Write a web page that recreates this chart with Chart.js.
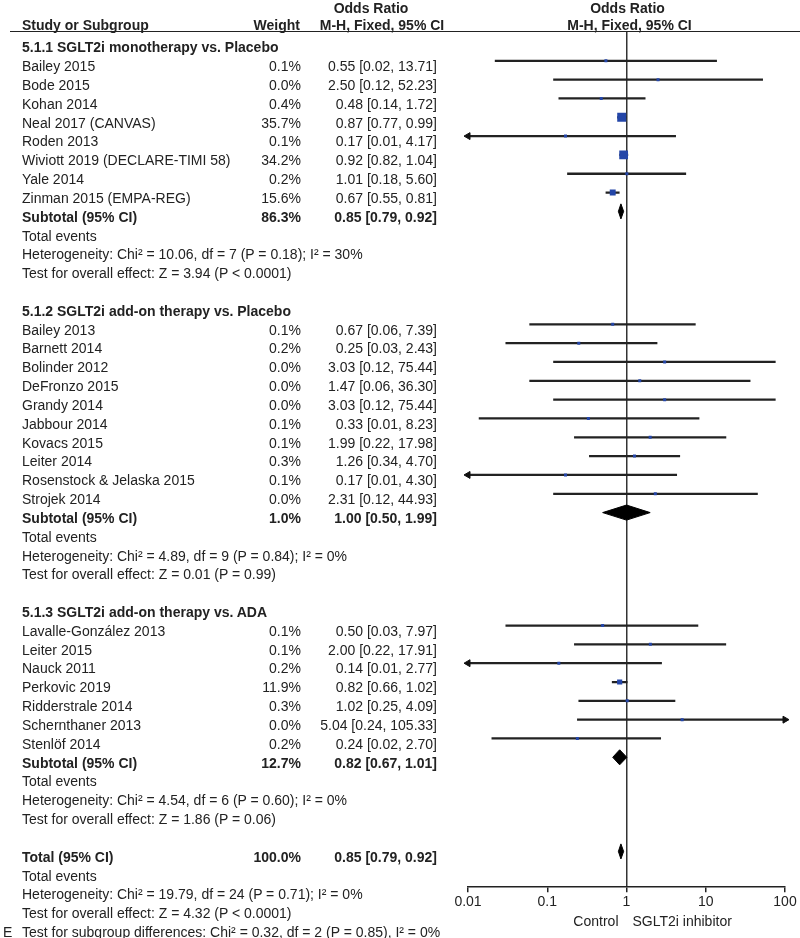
<!DOCTYPE html>
<html>
<head>
<meta charset="utf-8">
<script src="https://cdn.jsdelivr.net/npm/chart.js@4.4.1/dist/chart.umd.min.js"></script>
<style>
  body { margin: 0; background: #fff; }
  #wrap { position: relative; width: 800px; height: 938px; overflow: hidden; font-family: "Liberation Sans", Arial, sans-serif; font-size: 14px; color: #222; }
  #chart { position: absolute; left: 0; top: 0; }
  .t { position: absolute; white-space: nowrap; line-height: 16px; height: 16px; }
  .b { font-weight: bold; }
  #rule { position: absolute; left: 10px; right: 0; top: 31px; border-top: 1.5px solid #222; }
</style>
</head>
<body>
<div id="wrap">
  <canvas id="chart" width="800" height="938"></canvas>
  <div id="rule"></div>
</div>
<script>
const groupTitles = [
  "5.1.1 SGLT2i monotherapy vs. Placebo",
  "5.1.2 SGLT2i add-on therapy vs. Placebo",
  "5.1.3 SGLT2i add-on therapy vs. ADA"
]

// 5.1.1
const g1Studies = ["Bailey 2015", "Bode 2015", "Kohan 2014", "Neal 2017 (CANVAS)", "Roden 2013",
  "Wiviott 2019 (DECLARE-TIMI 58)", "Yale 2014", "Zinman 2015 (EMPA-REG)"]
const g1Weight = [0.1, 0.0, 0.4, 35.7, 0.1, 34.2, 0.2, 15.6]
const g1OR = [0.55, 2.50, 0.48, 0.87, 0.17, 0.92, 1.01, 0.67]
const g1Lower = [0.022, 0.12, 0.14, 0.77, 0.006, 0.82, 0.18, 0.55]
const g1Upper = [13.71, 52.23, 1.72, 0.99, 4.17, 1.04, 5.60, 0.81]

// 5.1.2
const g2Studies = ["Bailey 2013", "Barnett 2014", "Bolinder 2012", "DeFronzo 2015", "Grandy 2014",
  "Jabbour 2014", "Kovacs 2015", "Leiter 2014", "Rosenstock & Jelaska 2015", "Strojek 2014"]
const g2Weight = [0.1, 0.2, 0.0, 0.0, 0.0, 0.1, 0.1, 0.3, 0.1, 0.0]
const g2OR = [0.67, 0.25, 3.03, 1.47, 3.03, 0.33, 1.99, 1.26, 0.17, 2.31]
const g2Lower = [0.06, 0.03, 0.12, 0.06, 0.12, 0.0138, 0.22, 0.34, 0.006, 0.12]
const g2Upper = [7.39, 2.43, 75.44, 36.30, 75.44, 8.23, 17.98, 4.70, 4.30, 44.93]

// 5.1.3
const g3Studies = ["Lavalle-González 2013", "Leiter 2015", "Nauck 2011", "Perkovic 2019",
  "Ridderstrale 2014", "Schernthaner 2013", "Stenlöf 2014"]
const g3Weight = [0.1, 0.1, 0.2, 11.9, 0.3, 0.0, 0.2]
const g3OR = [0.50, 2.00, 0.14, 0.82, 1.02, 5.04, 0.24]
const g3Lower = [0.03, 0.22, 0.006, 0.66, 0.25, 0.24, 0.02]
const g3Upper = [7.97, 17.91, 2.77, 1.02, 4.09, 105.33, 2.70]

const subWeight = [86.3, 1.0, 12.7]
const subOR = [0.85, 1.00, 0.82]
const subLower = [0.79, 0.50, 0.67]
const subUpper = [0.92, 1.99, 1.01]
const hetText = [
  "Heterogeneity: Chi² = 10.06, df = 7 (P = 0.18); I² = 30%",
  "Heterogeneity: Chi² = 4.89, df = 9 (P = 0.84); I² = 0%",
  "Heterogeneity: Chi² = 4.54, df = 6 (P = 0.60); I² = 0%"
]
const effectText = [
  "Test for overall effect: Z = 3.94 (P < 0.0001)",
  "Test for overall effect: Z = 0.01 (P = 0.99)",
  "Test for overall effect: Z = 1.86 (P = 0.06)"
]

const totalWeight = 100.0
const totalOR = 0.85
const totalLower = 0.79
const totalUpper = 0.92
const totalHet = "Heterogeneity: Chi² = 19.79, df = 24 (P = 0.71); I² = 0%"
const totalEffect = "Test for overall effect: Z = 4.32 (P < 0.0001)"
const subgroupDiff = "Test for subgroup differences: Chi² = 0.32, df = 2 (P = 0.85), I² = 0%"

const xTicks = [0.01, 0.1, 1, 10, 100]
const XMIN = 0.01
const XMAX = 100

const groups = [
  { names: g1Studies, weight: g1Weight, or: g1OR, lo: g1Lower, hi: g1Upper },
  { names: g2Studies, weight: g2Weight, or: g2OR, lo: g2Lower, hi: g2Upper },
  { names: g3Studies, weight: g3Weight, or: g3OR, lo: g3Lower, hi: g3Upper }
]

const fmtW = (w) => w.toFixed(1) + "%"
const fmtOR = (o, l, h) => o.toFixed(2) + " [" + l.toFixed(2) + ", " + h.toFixed(2) + "]"

const DH = 0.4 // diamond half height, in rows
function diamond(o, l, h, r) {
  return [{ x: l, y: r }, { x: o, y: r - DH }, { x: h, y: r }, { x: o, y: r + DH }, { x: l, y: r }]
}

// lay the rows out one after another
const textRows = []
const squares = []
const ciBars = []
const arrows = []
const diamonds = []
let row = 0
groups.forEach((g, gi) => {
  textRows.push({ row, label: groupTitles[gi], bold: true })
  row++
  g.names.forEach((name, i) => {
    textRows.push({ row, label: name, weight: fmtW(g.weight[i]), or: fmtOR(g.or[i], g.lo[i], g.hi[i]) })
    squares.push({ x: g.or[i], y: row, w: g.weight[i] })
    ciBars.push({ x: [g.lo[i], g.hi[i]], y: row })
    if (g.lo[i] < XMIN) arrows.push({ x: XMIN, y: row, dir: 270 })
    if (g.hi[i] > XMAX) arrows.push({ x: XMAX, y: row, dir: 90 })
    row++
  })
  textRows.push({ row, label: "Subtotal (95% CI)", weight: fmtW(subWeight[gi]),
    or: fmtOR(subOR[gi], subLower[gi], subUpper[gi]), bold: true })
  diamonds.push(diamond(subOR[gi], subLower[gi], subUpper[gi], row))
  row++
  textRows.push({ row, label: "Total events" }); row++
  textRows.push({ row, label: hetText[gi] }); row++
  textRows.push({ row, label: effectText[gi] }); row++
  row++
})
textRows.push({ row, label: "Total (95% CI)", weight: fmtW(totalWeight),
  or: fmtOR(totalOR, totalLower, totalUpper), bold: true })
diamonds.push(diamond(totalOR, totalLower, totalUpper, row))
row++
textRows.push({ row, label: "Total events" }); row++
textRows.push({ row, label: totalHet }); row++
textRows.push({ row, label: totalEffect }); row++
textRows.push({ row, label: subgroupDiff, tag: "E" })

Chart.defaults.font.family = '"Liberation Sans", Arial, sans-serif'
Chart.defaults.font.size = 14
Chart.defaults.color = "#222"

const datasets = [
  {
    type: "scatter",
    data: squares,
    order: 0,
    pointStyle: "rect",
    pointRadius: (c) => Math.max(3, 1.5 * Math.sqrt(c.raw.w)) / Math.SQRT2,
    pointBorderWidth: 0,
    pointBackgroundColor: "#2446a8"
  },
  {
    type: "scatter",
    data: arrows,
    order: 1,
    clip: false,
    pointStyle: "triangle",
    pointRadius: 4,
    pointRotation: (c) => c.raw.dir,
    pointBackgroundColor: "#111",
    pointBorderColor: "#111",
    pointBorderWidth: 1
  },
  {
    type: "bar",
    indexAxis: "y",
    data: ciBars,
    order: 3,
    clip: 0,
    barThickness: 1.6,
    backgroundColor: "#222",
    borderWidth: 0
  }
]
diamonds.forEach((d) => {
  datasets.push({
    type: "scatter",
    data: d,
    order: 2,
    showLine: true,
    fill: "shape",
    borderColor: "#000",
    backgroundColor: "#000",
    borderWidth: 1,
    pointRadius: 0
  })
})

const chartRender = new Chart(document.querySelector("#chart"), {
  type: "scatter",
  data: { datasets: datasets },
  options: {
    responsive: false,
    animation: false,
    events: [],
    layout: { padding: { left: 468, right: 15, top: 32, bottom: 25 } },
    plugins: { legend: { display: false }, tooltip: { enabled: false } },
    scales: {
      x: {
        type: "logarithmic",
        min: XMIN,
        max: XMAX,
        offset: false,
        afterBuildTicks: (scale) => { scale.ticks = xTicks.map((v) => ({ value: v })) },
        ticks: { color: "#222", padding: 2, autoSkip: false, callback: (v) => String(v) },
        grid: {
          offset: false,
          color: (c) => (c.tick && c.tick.value === 1 ? "#333" : "rgba(0,0,0,0)"),
          lineWidth: 1.5,
          tickColor: "#222",
          tickLength: 5
        },
        border: { display: true, color: "#222", width: 1.5 }
      },
      y: {
        type: "linear",
        reverse: true,
        offset: false,
        grace: 0,
        min: -0.53,
        max: 44.9,
        display: false
      }
    }
  }
})

// text columns, aligned to the chart's own rows
const wrap = document.querySelector("#wrap")
const TEXT_SHIFT = 5.3
function addText(str, x, y, align, bold) {
  const el = document.createElement("div")
  el.className = "t" + (bold ? " b" : "")
  el.textContent = str
  el.style.top = (y - 8) + "px"
  if (align === "right") {
    el.style.right = (800 - x) + "px"
  } else if (align === "center") {
    el.style.left = x + "px"
    el.style.transform = "translateX(-50%)"
  } else {
    el.style.left = x + "px"
  }
  wrap.appendChild(el)
}

const yScale = chartRender.scales.y
const xScale = chartRender.scales.x
textRows.forEach((r) => {
  const y = yScale.getPixelForValue(r.row) + TEXT_SHIFT
  addText(r.label, 22, y, "left", r.bold)
  if (r.weight) addText(r.weight, 301, y, "right", r.bold)
  if (r.or) addText(r.or, 437, y, "right", r.bold)
  if (r.tag) addText(r.tag, 3, y, "left", false)
})

addText("Study or Subgroup", 22, 25, "left", true)
addText("Weight", 300, 25, "right", true)
addText("Odds Ratio", 371, 8, "center", true)
addText("M-H, Fixed, 95% CI", 382, 25, "center", true)
const x1 = xScale.getPixelForValue(1)
addText("Odds Ratio", x1 + 1, 8, "center", true)
addText("M-H, Fixed, 95% CI", x1 + 3, 25, "center", true)
addText("Control", x1 - 8, 921, "right", false)
addText("SGLT2i inhibitor", x1 + 6, 921, "left", false)
</script>
</body>
</html>
